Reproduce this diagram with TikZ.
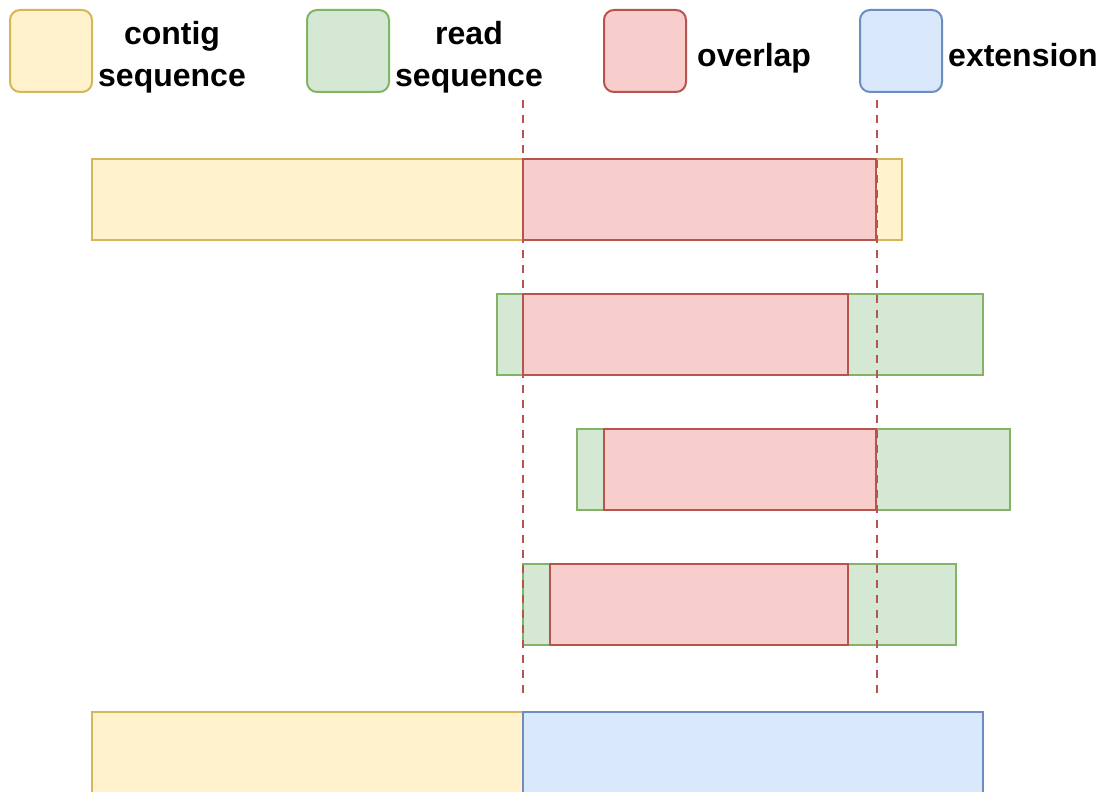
\documentclass[tikz,border=0pt]{standalone}
\usepackage{fontspec}
\setmainfont{Liberation Sans}
\usepackage{xcolor}
\usetikzlibrary{positioning}
\definecolor{contigFill}{HTML}{FFF2CC}
\definecolor{contigLine}{HTML}{D6B656}
\definecolor{readFill}{HTML}{D5E8D4}
\definecolor{readLine}{HTML}{82B366}
\definecolor{overlapFill}{HTML}{F8CECC}
\definecolor{overlapLine}{HTML}{B85450}
\definecolor{extFill}{HTML}{DAE8FC}
\definecolor{extLine}{HTML}{6C8EBF}
\tikzset{
  seqbox/.style={rectangle, anchor=north west, line width=2pt, inner sep=0pt, outer sep=0pt},
  contigbox/.style={seqbox, draw=contigLine, fill=contigFill},
  readbox/.style={seqbox, draw=readLine, fill=readFill},
  overlapbox/.style={seqbox, draw=overlapLine, fill=overlapFill},
  extbox/.style={seqbox, draw=extLine, fill=extFill},
  legendbox/.style={rectangle, anchor=north west, rounded corners=10pt, line width=2pt,
    minimum width=82pt, minimum height=82pt, inner sep=0pt, outer sep=0pt},
  legendtext/.style={font=\fontsize{32}{42}\selectfont\bfseries, align=center, inner sep=0pt},
  cutline/.style={draw=overlapLine, line width=2pt, dash pattern=on 8pt off 7pt},
}

\begin{document}
\begin{tikzpicture}[x=1pt,y=-1pt]
  \clip (0,0) rectangle (1109,792);
  \fill[white] (0,0) rectangle (1109,792);

  % --- legend ---
  \node[legendbox, draw=contigLine, fill=contigFill] (lcontig) at (10,10) {};
  \node[legendtext, right=6pt of lcontig, yshift=-6pt] (tcontig) {contig\\sequence};
  \node[legendbox, draw=readLine, fill=readFill] (lread) at (307,10) {};
  \node[legendtext, right=6pt of lread, yshift=-6pt] (tread) {read\\sequence};
  \node[legendbox, draw=overlapLine, fill=overlapFill] (loverlap) at (604,10) {};
  \node[legendtext, right=11pt of loverlap, yshift=-7pt] (toverlap) {overlap};
  \node[legendbox, draw=extLine, fill=extFill] (lext) at (860,10) {};
  \node[legendtext, right=6pt of lext, yshift=-4pt] (text) {extension};

  % --- contig with its overlap ---
  \node[contigbox, minimum width=810pt, minimum height=81pt] (contig) at (92,159) {};
  \node[overlapbox, minimum width=353pt, minimum height=81pt] (ovcontig) at (523,159) {};

  % --- reads ---
  \node[readbox, minimum width=486pt, minimum height=81pt] (readA) at (497,294) {};
  \node[overlapbox, minimum width=325pt, minimum height=81pt] (ovA) at (523,294) {};
  \node[readbox, minimum width=433pt, minimum height=81pt] (readB) at (577,429) {};
  \node[overlapbox, minimum width=272pt, minimum height=81pt] (ovB) at (604,429) {};
  \node[readbox, minimum width=433pt, minimum height=81pt] (readC) at (523,564) {};
  \node[overlapbox, minimum width=298pt, minimum height=81pt] (ovC) at (550,564) {};

  % --- extended contig ---
  \node[contigbox, minimum width=431pt, minimum height=120pt] (contigold) at (92,712) {};
  \node[extbox, minimum width=460pt, minimum height=120pt] (extension) at (523,712) {};

  % --- overlap limits ---
  \coordinate (cutLtop) at (523,100);
  \coordinate (cutLbot) at (523,695);
  \coordinate (cutRtop) at (877,100);
  \coordinate (cutRbot) at (877,697);
  \draw[cutline] (cutLtop) -- (cutLbot);
  \draw[cutline] (cutRtop) -- (cutRbot);
\end{tikzpicture}
\end{document}
